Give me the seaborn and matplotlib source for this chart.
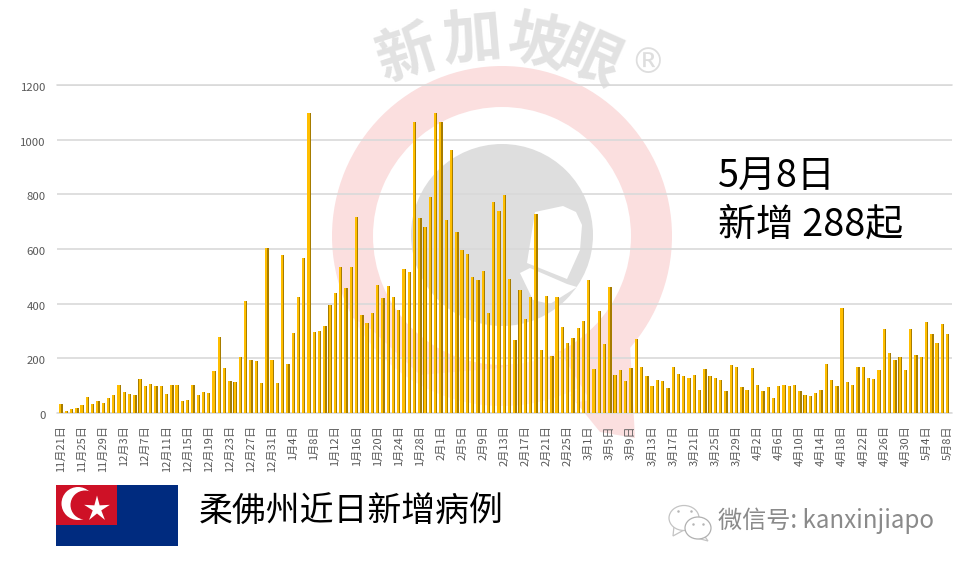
import matplotlib
matplotlib.use("Agg")
import matplotlib.pyplot as plt
from matplotlib.patches import Circle, Wedge, Polygon, Rectangle, Ellipse
from matplotlib.transforms import ScaledTranslation
import numpy as np
import pandas as pd
import seaborn as sns

# daily new cases, 21 Nov to 8 May
nov = [33, 9, 13, 18, 29, 60, 33, 45, 37, 54]
dec = [67, 101, 78, 68, 66, 124, 98, 107, 100, 100, 68, 104, 103, 45, 48, 104, 67, 77, 75, 155,
       278, 166, 117, 115, 204, 410, 193, 190, 110, 605, 193]
jan = [111, 578, 178, 294, 426, 568, 1099, 298, 301, 320, 394, 440, 533, 459, 533, 717, 360, 328, 367, 468,
       422, 463, 423, 377, 527, 515, 1066, 715, 682, 789, 1099]
feb = [1065, 705, 961, 661, 595, 583, 496, 488, 518, 367, 773, 739, 799, 490, 268, 449, 345, 424, 728, 232,
       429, 210, 426, 316, 256, 276, 312, 338]
mar = [488, 162, 374, 254, 462, 138, 159, 118, 165, 272, 170, 134, 100, 121, 117, 91, 168, 141, 137, 129,
       140, 85, 160, 134, 128, 120, 80, 174, 170, 95, 85]
apr = [165, 102, 82, 94, 54, 98, 101, 100, 102, 79, 67, 61, 73, 83, 180, 121, 99, 385, 115, 101,
       170, 168, 129, 126, 159, 307, 218, 193, 206, 159]
may = [309, 212, 204, 334, 290, 257, 326, 288]
cases = nov + dec + jan + feb + mar + apr + may

days = pd.date_range("2020-11-21", "2021-05-08")
day_labels = [f"{d.month}月{d.day}日" for d in days]
y_ticks = [0, 200, 400, 600, 800, 1000, 1200]

sns.set_theme(style="white")
plt.rcParams["font.family"] = ["Noto Sans CJK SC", "DejaVu Sans"]

W, H = 967, 565
fig = plt.figure(figsize=(W / 100, H / 100), dpi=100, facecolor="white")

# backdrop layer in pixel coordinates: watermark, flag, captions
bg = fig.add_axes([0, 0, 1, 1], zorder=0)
bg.set_xlim(0, W)
bg.set_ylim(H, 0)
bg.axis("off")

pink = "#fbdfdf"
bg.add_patch(Wedge((502, 236), 170, 0, 360, width=41, color=pink, lw=0))
bg.add_patch(Polygon([(630, 345), (635, 438), (600, 432), (570, 395)], color=pink, lw=0))
# the ring fades out towards the lower left
bg.add_patch(Polygon([(325, 300), (372, 330), (420, 375), (500, 368), (560, 352), (590, 400), (520, 412),
                      (430, 400), (360, 360)], color="white", alpha=0.55, lw=0))

grey = "#dedede"
bg.add_patch(Circle((502, 235), 91, color=grey, lw=0))
bg.add_patch(Polygon([(535, 212), (563, 206), (576, 212), (582, 225), (580, 250), (567, 279), (527, 263)],
                     color="white", lw=0))
bg.add_patch(Polygon([(520, 273), (533, 300), (550, 304), (577, 287), (567, 284), (530, 268)],
                     color="white", lw=0))

for txt, x, y, rot in [("新", 407, 56, 18), ("加", 473, 41, 5), ("坡", 537, 45, -12), ("眼", 590, 60, -24)]:
    bg.text(x, y, txt, fontsize=43, fontweight="bold", color="#e2e2e2", rotation=rot, ha="center", va="center")
bg.text(648, 63, "®", fontsize=25, color=grey, ha="center", va="center", family="DejaVu Sans")

# Johor flag
bg.add_patch(Rectangle((56, 485), 122, 61, color="#002b7f", lw=0))
bg.add_patch(Rectangle((56, 485), 61, 40, color="#ce1126", lw=0))
bg.add_patch(Circle((78, 503.5), 16.5, color="white", lw=0))
bg.add_patch(Circle((85, 505), 14.5, color="#ce1126", lw=0))
ang = np.deg2rad(np.arange(10) * 36 - 90)
rad = np.where(np.arange(10) % 2 == 0, 13.5, 4.5)
bg.add_patch(Polygon(np.c_[97 + rad * np.cos(ang), 509 + rad * np.sin(ang)], color="white", lw=0))

bg.text(718, 177, "5月8日", fontsize=27.3, color="black", va="center")
bg.text(718, 225, "新增 288起", fontsize=27.3, color="black", va="center")
bg.text(199, 512, "柔佛州近日新增病例", fontsize=24.4, color="black", va="center")
bg.text(718, 521, "微信号: kanxinjiapo", fontsize=17.4, color="#8a8a8a", va="center")

# wechat icon
bg.add_patch(Polygon([(674, 526), (673, 536), (684, 530)], fc="white", ec="#c4c4c4", lw=0.9))
bg.add_patch(Ellipse((684, 518), 30, 25, fc="white", ec="#c4c4c4", lw=0.9))
bg.add_patch(Polygon([(703, 534), (708, 541), (697, 538)], fc="white", ec="#c4c4c4", lw=0.9))
bg.add_patch(Ellipse((698, 528), 26, 22, fc="white", ec="#b0b0b0", lw=0.9))
bg.plot([678, 691, 693, 703], [511, 511, 524, 524], ls="", marker="o", ms=1.8, color="#b5b5b5", mew=0)

# chart layer
ax = fig.add_axes([57 / W, 1 - 413 / H, 895 / W, 328 / H], zorder=1)
ax.patch.set_alpha(0)
sns.barplot(x=day_labels, y=cases, color="#a67c00", width=0.64, saturation=1, linewidth=0, ax=ax, zorder=3)
n_back = len(ax.patches)
sns.barplot(x=day_labels, y=cases, color="#ffbe00", width=0.4, saturation=1, linewidth=0, ax=ax, zorder=4)
for bar in ax.patches[n_back:]:
    bar.set_x(bar.get_x() - 0.11)

ax.set_xlim(-0.76, 168.06 + 0.76)
ax.set_ylim(0, 1200)
ax.set_yticks(y_ticks)
ax.set_xticks(range(0, len(days), 4))
ax.set_xticklabels(day_labels[::4], rotation=90)
ax.tick_params(axis="x", length=0, pad=9, labelsize=8, labelcolor="#595959")
ax.tick_params(axis="y", length=0, pad=8, labelsize=8.2, labelcolor="#595959")
# tick labels sit a little under their gridlines in the original
for lab in ax.get_yticklabels():
    lab.set_transform(lab.get_transform() + ScaledTranslation(0, -2 / 100, fig.dpi_scale_trans))
ax.set_axisbelow(True)
ax.grid(axis="y", color="#d9d9d9", lw=1.2, zorder=1)
for y in [0, 1200]:
    ax.axhline(y, color="#d9d9d9", lw=1.2, zorder=1, clip_on=False)
sns.despine(ax=ax, left=True, bottom=True)
ax.set_xlabel("")
ax.set_ylabel("")

fig.savefig("out.png", dpi=100)
